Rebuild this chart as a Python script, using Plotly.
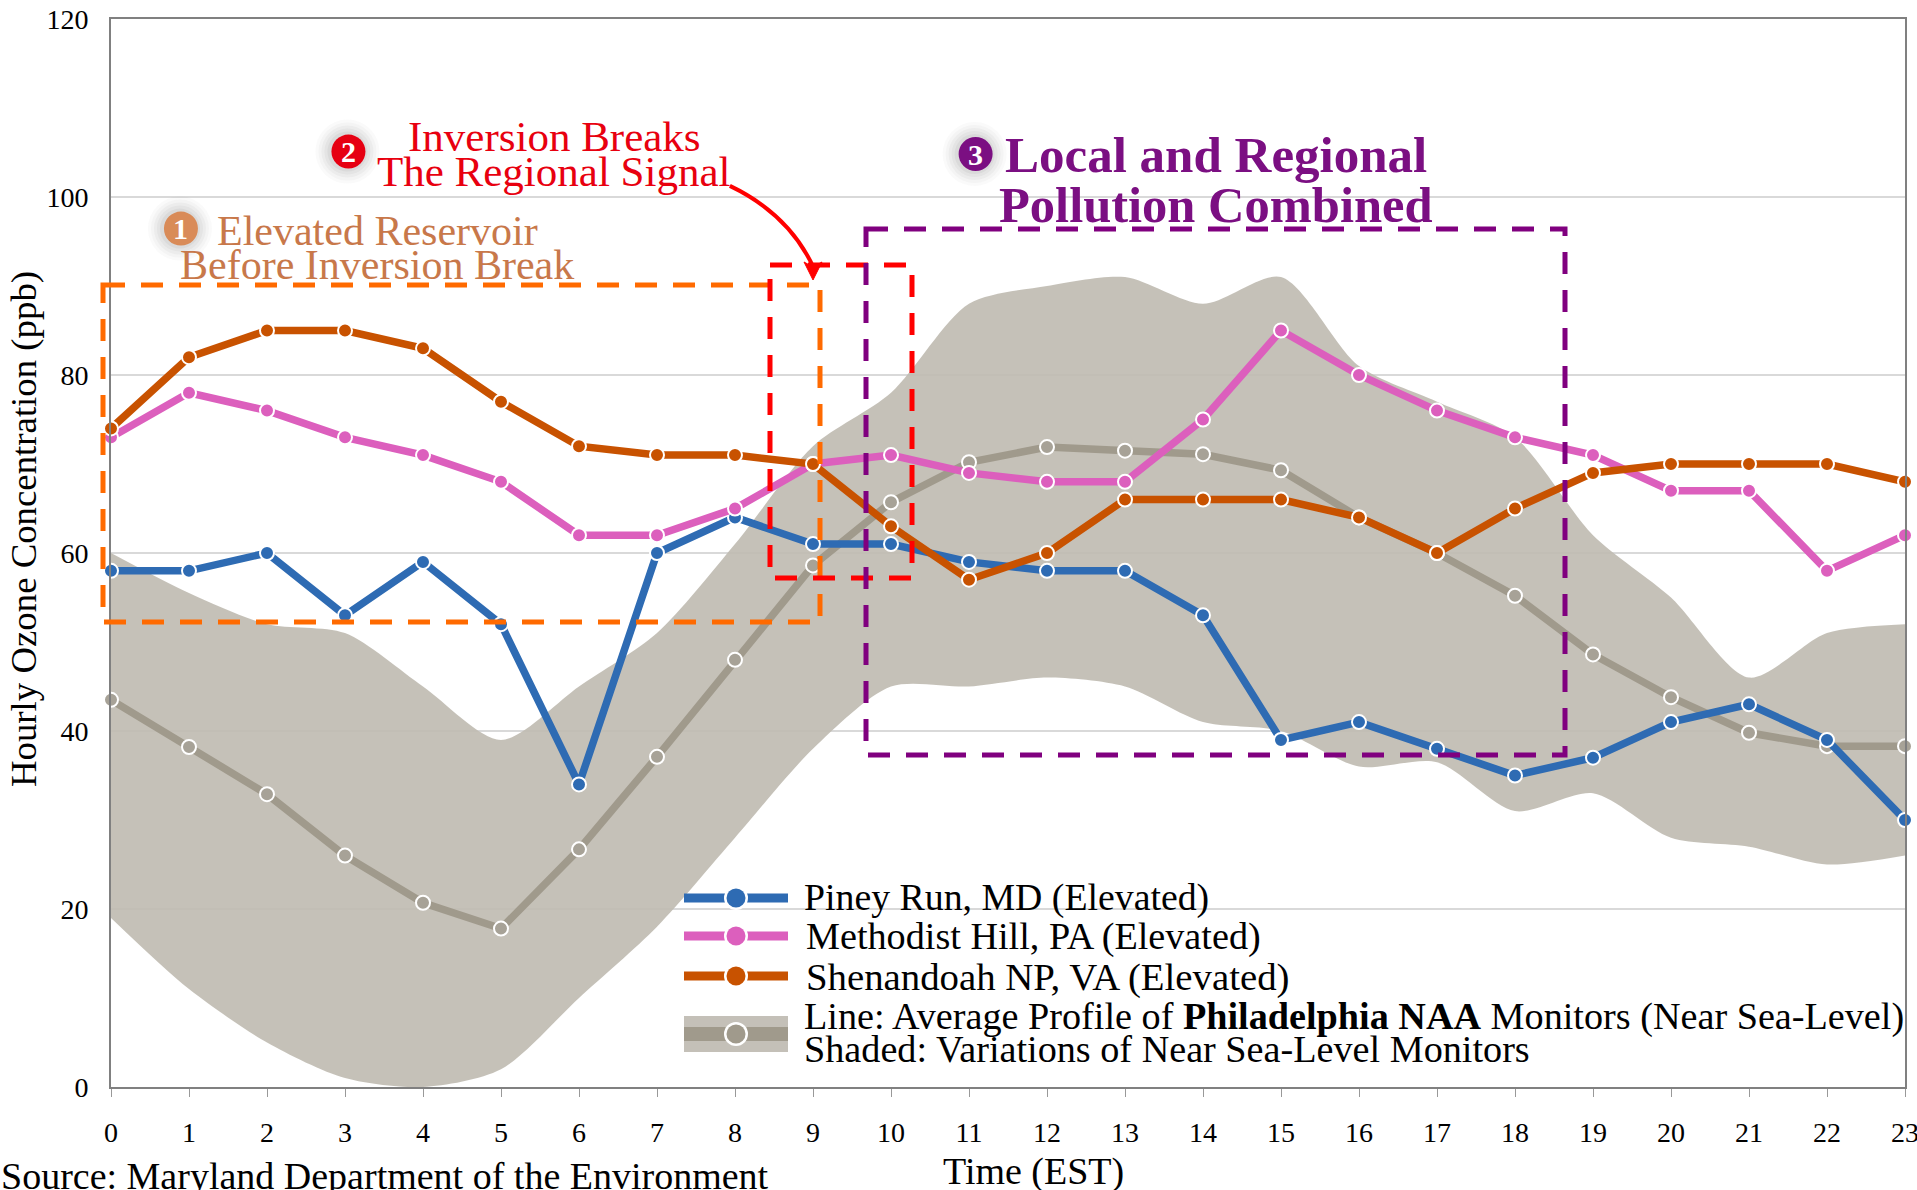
import plotly.graph_objects as go

hours = list(range(24))
piney = [58,58,60,53,59,52,34,60,64,61,61,59,58,58,53,39,41,38,35,37,41,43,39,30]
methodist = [73,78,76,73,71,68,62,62,65,70,71,69,68,68,75,85,80,76,73,71,67,67,58,62]
shenandoah = [74,82,85,85,83,77,72,71,71,70,63,57,60,66,66,66,64,60,65,69,70,70,70,68]
average = [43.5,38.2,32.9,26,20.7,17.8,26.7,37.1,48,58.6,65.7,70.2,71.9,71.5,71.1,69.3,64,60,55.2,48.6,43.8,39.8,38.3,38.3]
band_upper = [60,55.5,52,51,45,39,45,51,61,72,78,88,90,91,88,91,81,77,73,62,55,46,51,52]
band_lower = [19,11,5,1,0,2,10,18,28,38,45,45,46,45,41,40,36,36.5,31,33,28,27,25,26]

W, H = 1917, 1190
L, R, T, B = 111, 1905, 19, 1087
S = 1917 / 1568  # shrunk-view to full-size factor

def px(x):
    return (x - L) / (R - L)

def py(y):
    return (B - y) / (B - T)

BLUE, PINK, ORANGE = "#2e6bb3", "#dc5fbd", "#c85200"
GREY, BAND = "#a09a8c", "#c4c0b8"
SERIF = "Liberation Serif"

fig = go.Figure()
fig.add_trace(go.Scatter(x=hours, y=band_lower, mode="lines", line=dict(color="rgba(0,0,0,0)", width=0, shape="spline", smoothing=0.8),
                         showlegend=False, hoverinfo="skip"))
fig.add_trace(go.Scatter(x=hours, y=band_upper, mode="lines", fill="tonexty", fillcolor="rgba(192,188,178,0.92)",
                         line=dict(color="rgba(0,0,0,0)", width=0, shape="spline", smoothing=0.8), showlegend=False, hoverinfo="skip"))

for name, vals, col, mcol in [
    ("Average Profile of Philadelphia NAA Monitors", average, GREY, "#a7a297"),
    ("Piney Run, MD (Elevated)", piney, BLUE, BLUE),
    ("Methodist Hill, PA (Elevated)", methodist, PINK, PINK),
    ("Shenandoah NP, VA (Elevated)", shenandoah, ORANGE, ORANGE),
]:
    fig.add_trace(go.Scatter(x=hours, y=vals, name=name, mode="lines+markers", cliponaxis=False, showlegend=False,
                             line=dict(color=col, width=7.5),
                             marker=dict(size=14, color=mcol, line=dict(color="white", width=2))))

shapes = []
annots = []

def box(x0, y0, x1, y1, color):
    shapes.append(dict(type="rect", xref="paper", yref="paper", x0=px(x0), x1=px(x1), y0=py(y0), y1=py(y1),
                       line=dict(color=color, width=5, dash="22px,16px"), fillcolor="rgba(0,0,0,0)"))

box(103, 285, 820, 622, "#ff6a00")
box(770, 265, 912, 578, "#ff0000")
box(866, 229, 1565, 755, "#80007f")

def text(x, y, s, size, color="black", bold=False, anchor="center", angle=0):
    annots.append(dict(xref="paper", yref="paper", x=px(x), y=py(y), text=f"<b>{s}</b>" if bold else s, showarrow=False,
                       xanchor=anchor, yanchor="middle", textangle=angle, borderpad=0,
                       font=dict(family=SERIF, size=size, color=color)))

def circle(cx, cy, r, color, opacity=1.0):
    shapes.append(dict(type="circle", xref="paper", yref="paper", x0=px(cx - r), x1=px(cx + r), y0=py(cy - r), y1=py(cy + r),
                       fillcolor=color, opacity=opacity, line=dict(width=0)))

def badge(cx, cy, num, color):
    for k, o in [(32, .03), (29, .04), (26, .05), (23, .06), (20, .07)]:
        circle(cx - 1, cy, k, "#666666", opacity=o)
    circle(cx, cy, 17, color)
    text(cx, cy, num, 30, "white", bold=True)

badge(148 * S, 187 * S, "1", "#d98b58")
badge(285 * S, 124 * S, "2", "#e60012")
badge(798 * S, 126 * S, "3", "#7b0f82")

text(308.5 * S, 189 * S, "Elevated Reservoir", 42, "#c8784a")
text(308 * S, 217 * S, "Before Inversion Break", 42, "#c8784a")
text(453.5 * S, 112 * S, "Inversion Breaks", 43, "#e8000f")
text(453.5 * S, 140 * S, "The Regional Signal", 43, "#e8000f")
text(994.5 * S, 127 * S, "Local and Regional", 51, "#7b0f82", bold=True)
text(994.5 * S, 168 * S, "Pollution Combined", 50.5, "#7b0f82", bold=True)

# curved arrow
ax0, ay0 = px(597 * S), py(152 * S)
ax1, ay1 = px(665 * S), py(218 * S)
cx, cy = px(645 * S), py(175 * S)
shapes.append(dict(type="path", xref="paper", yref="paper", path=f"M {ax0},{ay0} Q {cx},{cy} {ax1},{ay1}",
                   line=dict(color="#ff0000", width=4), fillcolor="rgba(0,0,0,0)"))
tx, ty = 665 * S, 229 * S
shapes.append(dict(type="path", xref="paper", yref="paper",
                   path=f"M {px(tx)},{py(ty)} L {px(tx-9)},{py(ty-18)} L {px(tx)},{py(ty-13)} L {px(tx+9)},{py(ty-18)} Z",
                   fillcolor="#ff0000", line=dict(color="#ff0000", width=1)))

# legend drawn by hand
LX0, LX1 = 684, 788
MX = (LX0 + LX1) / 2
shapes.append(dict(type="rect", xref="paper", yref="paper", x0=px(LX0), x1=px(LX1), y0=py(1016), y1=py(1052),
                   fillcolor=BAND, line=dict(width=0)))
for y, col in [(898, BLUE), (936, PINK), (976, ORANGE), (1034, GREY)]:
    shapes.append(dict(type="line", xref="paper", yref="paper", x0=px(LX0), x1=px(LX1), y0=py(y), y1=py(y),
                       line=dict(color=col, width=9 if col != GREY else 14)))
    circle(MX, y, 12, "white")
    circle(MX, y, 9.5, col)

LT = 803
text(LT, 897, "Piney Run, MD (Elevated)", 37.8, anchor="left")
text(LT + 2, 936, "Methodist Hill, PA (Elevated)", 38.2, anchor="left")
text(LT + 2, 977, "Shenandoah NP, VA (Elevated)", 38.8, anchor="left")
text(LT, 1016, "Line: Average Profile of <b>Philadelphia NAA</b> Monitors (Near Sea-Level)", 38.2, anchor="left")
text(LT, 1049, "Shaded: Variations of Near Sea-Level Monitors", 38.2, anchor="left")

text(23, 529, "Hourly Ozone Concentration (ppb)", 36.8, angle=-90)
text(1033, 1171, "Time (EST)", 38)
text(0, 1176, "Source: Maryland Department of the Environment", 38, anchor="left")

axis_line = dict(showline=True, linecolor="#808080", linewidth=2, mirror=True, zeroline=False, automargin=False)
fig.update_layout(
    width=W, height=H, margin=dict(l=L, r=W - R, t=T, b=H - B), paper_bgcolor="white", plot_bgcolor="white",
    showlegend=False, shapes=shapes, annotations=annots, font=dict(family=SERIF, color="black"),
    xaxis=dict(range=[0, 23], tickmode="array", tickvals=hours, ticktext=[str(h) for h in hours], ticks="outside", ticklen=8,
               tickcolor="#999999", tickwidth=1, showgrid=False, tickfont=dict(size=28), ticklabelstandoff=11,
               ticklabeloverflow="allow", **axis_line),
    yaxis=dict(range=[0, 120], tickvals=list(range(0, 121, 20)), showgrid=True, gridcolor="#d9d9d9", gridwidth=2,
               tickfont=dict(size=28), ticklabelstandoff=15, ticklabeloverflow="allow", **axis_line),
)
fig.write_html("out.html", post_script="document.body.style.margin='0';", config=dict(displayModeBar=False))
